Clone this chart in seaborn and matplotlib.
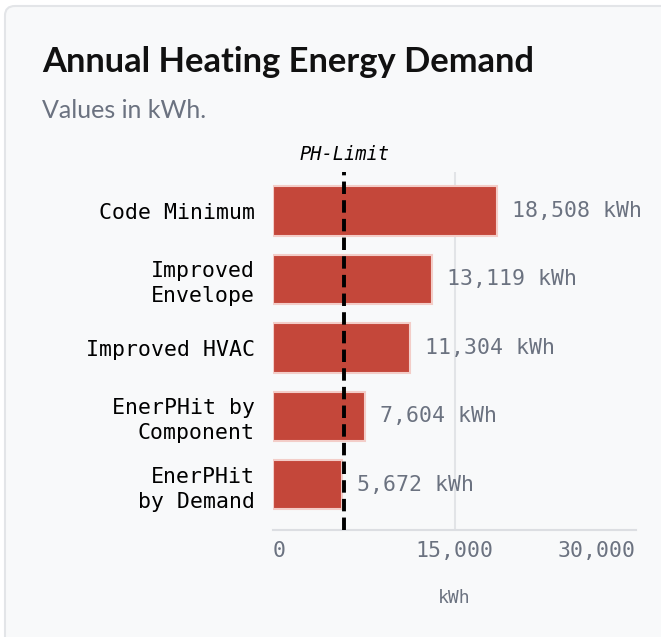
import numpy as np
import pandas as pd
import seaborn as sns
import matplotlib.pyplot as plt
from matplotlib.patches import FancyBboxPatch
from matplotlib.transforms import blended_transform_factory

# data
categories = ["Code Minimum", "Improved\nEnvelope", "Improved HVAC",
              "EnerPHit by\nComponent", "EnerPHit\nby Demand"]
demand_kwh = [18508, 13119, 11304, 7604, 5672]
ph_limit = 5900
x_ticks = [0, 15000, 30000]
x_tick_labels = ["0", "15,000", "30,000"]

df = pd.DataFrame({"Scenario": categories, "Demand": demand_kwh})

sns.set_theme(style="white")
plt.rcParams["font.family"] = ["DejaVu Sans Mono"]

card_bg = "#f8f9fa"
grey_txt = "#6b7280"
bar_red = "#c4473a"

fig = plt.figure(figsize=(6.61, 6.37), dpi=100)
fig.patch.set_facecolor("white")

# card background
W, H = 661, 637
card = FancyBboxPatch((5 / W, -0.05), 1.2, 1 - 6 / H + 0.05,
                      boxstyle="round,pad=0,rounding_size=0.015",
                      transform=fig.transFigure, facecolor=card_bg,
                      edgecolor="#e3e5e8", linewidth=1.5, zorder=-10)
fig.patches.append(card)

ax = fig.add_axes([273 / W, 1 - 530 / H, (636 - 273) / W, (530 - 172) / H])
ax.set_facecolor(card_bg)
ax.set_zorder(1)

sns.barplot(data=df, x="Demand", y="Scenario", orient="h", ax=ax,
            color=bar_red, saturation=1, width=0.72,
            edgecolor="#f3cdc8", linewidth=1.5, zorder=2)

ax.bar_label(ax.containers[0], labels=[f"{v:,} kWh" for v in demand_kwh],
             padding=11, color=grey_txt, fontsize=15.5)

ax.axvline(ph_limit, color="black", lw=2.8, dashes=(3.2, 1.6), zorder=3)
tr = blended_transform_factory(ax.transData, ax.transAxes)
ax.text(ph_limit, 1.05, "PH-Limit", transform=tr, ha="center", va="center",
        fontsize=13.5, style="italic", color="black")

ax.set_xlim(0, 30000)
ax.set_ylim(len(categories) - 0.34, -0.57)
ax.set_xticks(x_ticks)
ax.set_xticklabels(x_tick_labels)
ticklabs = ax.get_xticklabels()
ticklabs[0].set_ha("left")
ticklabs[-1].set_ha("right")

ax.grid(axis="x", color="#e2e4e7", lw=1.5, zorder=0)
gl = ax.xaxis.get_gridlines()
gl[0].set_visible(False)
gl[-1].set_visible(False)

ax.tick_params(axis="x", length=0, pad=8, labelsize=15.5, labelcolor=grey_txt)
ax.tick_params(axis="y", length=0, pad=13, labelsize=15.5, labelcolor="black")
for lab in ax.get_yticklabels():
    lab.set_ha("right")
    lab.set_multialignment("right")
    lab.set_linespacing(1.3)

ax.set_ylabel("")
ax.set_xlabel("kWh", fontsize=13, color=grey_txt, labelpad=20)

for s in ["top", "right", "left"]:
    ax.spines[s].set_visible(False)
ax.spines["bottom"].set_color("#dcdee2")
ax.spines["bottom"].set_linewidth(1.5)

fig.text(42 / W, 1 - 62 / H, "Annual Heating Energy Demand", fontsize=24.8,
         fontweight="bold", family="Lato", color="#111111", va="center")
fig.text(42 / W, 1 - 111 / H, "Values in kWh.", fontsize=18,
         family="Lato", color=grey_txt, va="center")

fig.savefig("out.png", dpi=100, facecolor=fig.get_facecolor())
